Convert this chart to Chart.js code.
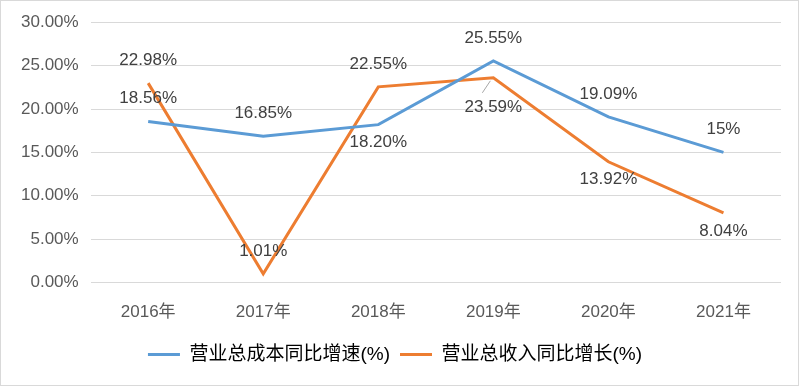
<!DOCTYPE html>
<html>
<head>
<meta charset="utf-8">
<script src="https://cdn.jsdelivr.net/npm/chart.js@4/dist/chart.umd.min.js"></script>
<style>
  html, body { margin: 0; padding: 0; background: #fff; }
  #wrap { position: relative; width: 799px; height: 386px; }
</style>
</head>
<body>
<div id="wrap"><canvas id="growthChart" width="799" height="386"></canvas></div>
<script>
const years = ["2016年", "2017年", "2018年", "2019年", "2020年", "2021年"];
const costGrowth = [18.56, 16.85, 18.20, 25.55, 19.09, 15];
const revenueGrowth = [22.98, 1.01, 22.55, 23.59, 13.92, 8.04];
const costLabels = ["18.56%", "16.85%", "18.20%", "25.55%", "19.09%", "15%"];
const revenueLabels = ["22.98%", "1.01%", "22.55%", "23.59%", "13.92%", "8.04%"];

// where each label sits relative to its point
const costPlace = ["top", "top", "bottom", "top", "top", "top"];
const revenuePlace = ["top", "top", "top", "bottom", "bottom", "bottom"];

const FONT = "'Liberation Sans', 'Noto Sans CJK SC', sans-serif";

const pointLabels = {
  id: "pointLabels",
  afterDatasetsDraw(chart) {
    const ctx = chart.ctx;
    ctx.save();
    ctx.font = "17px " + FONT;
    ctx.fillStyle = "#404040";
    ctx.textAlign = "center";
    ctx.textBaseline = "middle";
    const sets = [[costLabels, costPlace], [revenueLabels, revenuePlace]];
    chart.data.datasets.forEach((ds, i) => {
      const meta = chart.getDatasetMeta(i);
      meta.data.forEach((pt, j) => {
        const place = sets[i][1][j];
        let y = place === "top" ? pt.y - 23 : pt.y + 18;
        let x = pt.x;
        if (i === 1 && j === 3) {
          // 23.59% sits lower with a leader line
          y = pt.y + 29;
          ctx.strokeStyle = "#a6a6a6";
          ctx.lineWidth = 1;
          ctx.beginPath();
          ctx.moveTo(pt.x - 3, pt.y + 3);
          ctx.lineTo(pt.x - 11, pt.y + 15);
          ctx.stroke();
        }
        ctx.fillText(sets[i][0][j], x, y);
      });
    });
    ctx.restore();
  }
};

const frame = {
  id: "frame",
  afterDraw(chart) {
    const ctx = chart.ctx;
    ctx.save();
    ctx.strokeStyle = "#d9d9d9";
    ctx.lineWidth = 1;
    ctx.strokeRect(0.5, 0.5, chart.width - 1, chart.height - 1);
    ctx.restore();
  }
};

new Chart(document.getElementById("growthChart"), {
  type: "line",
  data: {
    labels: years,
    datasets: [
      {
        label: "营业总成本同比增速(%)",
        data: costGrowth,
        borderColor: "#5b9bd5",
        backgroundColor: "#5b9bd5",
        borderWidth: 3,
        pointRadius: 0,
        tension: 0
      },
      {
        label: "营业总收入同比增长(%)",
        data: revenueGrowth,
        borderColor: "#ed7d31",
        backgroundColor: "#ed7d31",
        borderWidth: 3,
        pointRadius: 0,
        tension: 0
      }
    ]
  },
  options: {
    responsive: false,
    animation: false,
    layout: { padding: { left: 9, right: 18, top: 14, bottom: 12 } },
    plugins: {
      tooltip: { enabled: false },
      legend: {
        position: "bottom",
        labels: {
          font: { size: 19, family: FONT },
          color: "#595959",
          boxWidth: 32,
          boxHeight: 0,
          padding: 10,
          generateLabels(chart) {
            return chart.data.datasets.map((ds, i) => ({
              text: ds.label,
              strokeStyle: ds.borderColor,
              fillStyle: ds.borderColor,
              lineWidth: 3,
              datasetIndex: i
            }));
          }
        }
      }
    },
    scales: {
      x: {
        offset: true,
        grid: { display: false },
        border: { display: false },
        ticks: { font: { size: 17, family: FONT }, color: "#595959", padding: 12 }
      },
      y: {
        min: 0,
        max: 30,
        ticks: {
          stepSize: 5,
          font: { size: 17, family: FONT },
          color: "#595959",
          padding: 12,
          callback: (v) => v.toFixed(2) + "%"
        },
        grid: { color: "#d9d9d9", drawTicks: false },
        border: { display: false }
      }
    }
  },
  plugins: [pointLabels, frame]
});
</script>
</body>
</html>
